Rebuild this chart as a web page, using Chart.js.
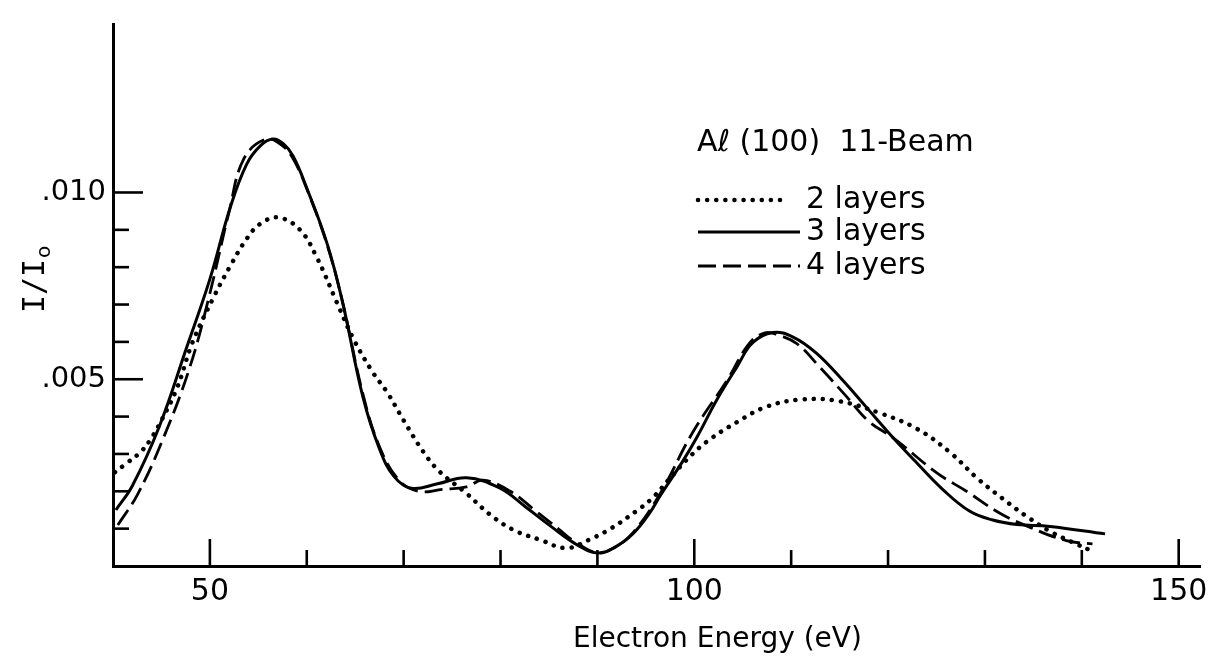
<!DOCTYPE html>
<html>
<head>
<meta charset="utf-8">
<script src="https://cdn.jsdelivr.net/npm/chart.js@4.4.1/dist/chart.umd.min.js"></script>
<style>
  html, body { margin: 0; padding: 0; background: #fff; }
  #wrap { width: 1220px; height: 670px; }
</style>
</head>
<body>
<div id="wrap"><canvas id="chart" width="1220" height="670"></canvas></div>
<script>
// Al(100) 11-beam LEED intensity
const energy2 = [40.2, 41.4, 42.8, 43.8, 45, 46.6, 48.2, 50.3, 52.1, 53.8, 55.2, 57.1, 59.3, 61, 63.1, 64.8, 66.8, 68.3, 70, 72, 73.7, 76.5, 78.9, 81.3, 84.1, 86.8, 89.2, 91.3, 93.9, 95.6, 97.5, 99.2, 101.3, 104.4, 107.5, 111.2, 115, 119.2, 123, 126.4, 129.2, 131.8, 134.3, 136.7, 139.5, 140.8];
const layers2 = [0.00251, 0.00275, 0.00304, 0.00336, 0.0039, 0.00476, 0.00598, 0.00715, 0.00803, 0.00876, 0.00916, 0.00933, 0.009, 0.00828, 0.00706, 0.00609, 0.00519, 0.00465, 0.0039, 0.00307, 0.00253, 0.00194, 0.00138, 0.00097, 0.0007, 0.00048, 0.00071, 0.00099, 0.00145, 0.0018, 0.00235, 0.00284, 0.00333, 0.00385, 0.00427, 0.00446, 0.00441, 0.00409, 0.00367, 0.00304, 0.00235, 0.00181, 0.00133, 0.00093, 0.00058, 0.00043];

const energy3 = [40.3, 42, 44.8, 47.6, 50, 52.1, 53.8, 55.2, 56.5, 57.6, 58.6, 60, 62.1, 63.7, 65.8, 67.5, 69, 70.8, 73.5, 76.5, 79.9, 82.5, 85.1, 88, 90, 91.8, 93.7, 95.4, 96.5, 98.8, 100.3, 102.3, 104.4, 106, 108.1, 110.2, 112.6, 115.3, 117.8, 120.5, 123, 125.6, 128.4, 130.8, 133.3, 136.7, 142.4];
const layers3 = [0.0015, 0.00215, 0.00375, 0.00585, 0.00768, 0.0096, 0.01076, 0.01125, 0.01143, 0.0113, 0.01097, 0.01012, 0.00863, 0.00706, 0.00452, 0.00314, 0.0024, 0.00208, 0.0022, 0.00236, 0.00209, 0.0016, 0.00108, 0.00055, 0.00035, 0.0005, 0.00087, 0.00142, 0.00189, 0.0028, 0.00346, 0.00444, 0.00533, 0.00597, 0.00625, 0.00613, 0.0057, 0.00498, 0.00424, 0.00344, 0.00275, 0.00206, 0.00147, 0.00123, 0.00111, 0.00106, 0.00086];

const energy4 = [40.5, 42.5, 45, 47.9, 50, 52, 53.5, 55.8, 57.5, 58.6, 60, 62.1, 63.7, 65.8, 67.5, 69.5, 71.5, 74, 76.5, 78.2, 81, 83.6, 86, 87.4, 90, 91.8, 93.7, 96.5, 99.8, 103.4, 105.7, 107.3, 108.5, 110.6, 113, 115.7, 118.1, 120.5, 125, 128.1, 131.5, 134.6, 138.4, 141.1];
const layers4 = [0.0011, 0.0019, 0.0033, 0.0053, 0.0073, 0.0095, 0.0109, 0.01143, 0.01125, 0.0109, 0.0101, 0.0086, 0.00706, 0.0046, 0.0032, 0.0023, 0.002, 0.00205, 0.00212, 0.0023, 0.002, 0.00148, 0.00099, 0.0007, 0.00035, 0.0005, 0.0009, 0.00195, 0.00356, 0.00498, 0.00597, 0.00624, 0.0062, 0.00595, 0.00531, 0.00454, 0.00385, 0.00344, 0.0025, 0.002, 0.00142, 0.00104, 0.00068, 0.00059];

const xTicks = [50, 60, 70, 80, 90, 100, 110, 120, 130, 140, 150];
const xLabels = [50, 100, 150];
const yTicks = [0.001, 0.002, 0.003, 0.004, 0.005, 0.006, 0.007, 0.008, 0.009, 0.010];
const yLabels = ['.005', '.010'];

const FONT = "'DejaVu Sans', sans-serif";

function pts(xs, ys) {
  return xs.map((e, i) => ({ x: e, y: ys[i] }));
}
function isMajorY(v) {
  return Math.abs(v - 0.005) < 1e-9 || Math.abs(v - 0.01) < 1e-9;
}

// tick marks pointing inward, axis titles and the key
const decor = {
  id: 'decor',
  afterDraw(chart) {
    const { ctx, chartArea } = chart;
    const x = chart.scales.x, y = chart.scales.y;
    const base = y.getPixelForValue(0);
    ctx.save();
    ctx.strokeStyle = '#000';
    ctx.lineWidth = 2.6;
    xTicks.forEach(v => {
      const px = x.getPixelForValue(v);
      const len = v % 50 === 0 ? 27 : 16;
      ctx.beginPath();
      ctx.moveTo(px, base);
      ctx.lineTo(px, base - len);
      ctx.stroke();
    });
    yTicks.forEach(v => {
      const py = y.getPixelForValue(v);
      ctx.beginPath();
      ctx.moveTo(chartArea.left, py);
      ctx.lineTo(chartArea.left + (isMajorY(v) ? 30 : 16), py);
      ctx.stroke();
    });

    ctx.fillStyle = '#000';
    ctx.font = '28px ' + FONT;
    ctx.textBaseline = 'middle';
    ctx.textAlign = 'left';
    ctx.fillText('Electron Energy (eV)', 573, 640);

    // I/Io, rotated, with a lowered small o
    ctx.save();
    ctx.translate(33, 279);
    ctx.rotate(-Math.PI / 2);
    ctx.textAlign = 'left';
    ctx.textBaseline = 'alphabetic';
    ctx.font = "30px 'DejaVu Sans Mono', monospace";
    const w = ctx.measureText('I/I').width;
    ctx.fillText('I/I', -w / 2 - 7, 11);
    ctx.font = '20px ' + FONT;
    ctx.fillText('o', w / 2 - 6, 17);
    ctx.restore();

    // key
    ctx.font = '30px ' + FONT;
    ctx.textAlign = 'left';
    ctx.textBaseline = 'middle';
    ctx.fillText('A\u2113 (100)  11-Beam', 697, 143);
    const rows = [
      { label: '2 layers', y: 200, dash: [0.1, 9], width: 4.5, cap: 'round', x1: 788 },
      { label: '3 layers', y: 232, dash: [], width: 3, cap: 'butt', x1: 800 },
      { label: '4 layers', y: 266, dash: [18, 7], width: 3, cap: 'butt', x1: 800 }
    ];
    rows.forEach(r => {
      ctx.beginPath();
      ctx.setLineDash(r.dash);
      ctx.lineCap = r.cap;
      ctx.lineWidth = r.width;
      ctx.moveTo(698, r.y);
      ctx.lineTo(r.x1, r.y);
      ctx.stroke();
      ctx.setLineDash([]);
      ctx.fillText(r.label, 806, r.y);
    });
    ctx.restore();
  }
};

new Chart(document.getElementById('chart'), {
  type: 'line',
  data: {
    datasets: [
      {
        label: '2 layers',
        data: pts(energy2, layers2),
        borderColor: '#000',
        borderWidth: 4.5,
        borderDash: [0.1, 9],
        borderCapStyle: 'round',
        pointRadius: 0,
        tension: 0.4,
        fill: false
      },
      {
        label: '3 layers',
        data: pts(energy3, layers3),
        borderColor: '#000',
        borderWidth: 3,
        pointRadius: 0,
        tension: 0.4,
        fill: false
      },
      {
        label: '4 layers',
        data: pts(energy4, layers4),
        borderColor: '#000',
        borderWidth: 2.8,
        borderDash: [18, 7],
        pointRadius: 0,
        tension: 0.4,
        fill: false
      }
    ]
  },
  options: {
    responsive: false,
    animation: false,
    layout: { padding: { top: 15, right: 20, left: 0, bottom: 0 } },
    plugins: {
      legend: { display: false },
      tooltip: { enabled: false }
    },
    scales: {
      x: {
        type: 'linear',
        min: 40,
        max: 152.2,
        grid: { display: false, drawTicks: false },
        border: { display: true, color: '#000', width: 3 },
        afterBuildTicks(s) { s.ticks = xTicks.map(v => ({ value: v })); },
        ticks: {
          autoSkip: false,
          maxRotation: 0,
          padding: 8,
          color: '#000',
          font: { family: FONT, size: 30 },
          callback: v => xLabels.includes(v) ? String(v) : ''
        },
        afterFit(s) { s.height = 104; }
      },
      y: {
        type: 'linear',
        min: 0,
        max: 0.0145,
        grid: { display: false, drawTicks: false },
        border: { display: true, color: '#000', width: 3 },
        afterBuildTicks(s) { s.ticks = yTicks.map(v => ({ value: v })); },
        ticks: {
          autoSkip: false,
          padding: 7,
          color: '#000',
          font: { family: FONT, size: 29 },
          callback: v => {
            if (Math.abs(v - 0.005) < 1e-9) return yLabels[0];
            if (Math.abs(v - 0.01) < 1e-9) return yLabels[1];
            return '';
          }
        },
        afterFit(s) { s.width = 113; }
      }
    }
  },
  plugins: [decor]
});
</script>
</body>
</html>
